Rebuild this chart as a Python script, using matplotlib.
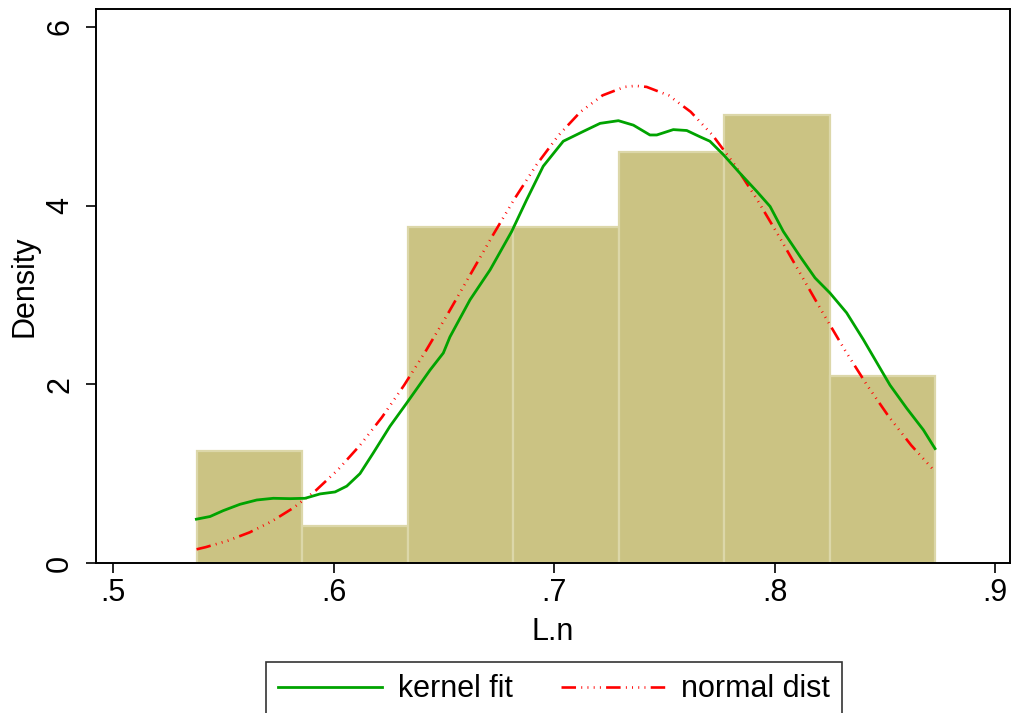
import numpy as np
import matplotlib
matplotlib.use("Agg")
import matplotlib.pyplot as plt
from matplotlib.lines import Line2D

plt.rcParams["font.family"] = ["Liberation Sans", "DejaVu Sans"]

# histogram (density)
bin_edges = [0.5379, 0.5857, 0.6336, 0.6814, 0.7293, 0.7771, 0.8250, 0.8728]
density = [1.254, 0.418, 3.762, 3.762, 4.598, 5.016, 2.090]

# kernel density estimate
kde_x = [0.5378, 0.5440, 0.5500, 0.5576, 0.5652, 0.5727, 0.5803, 0.5871, 0.5939,
         0.6007, 0.6060, 0.6120, 0.6180, 0.6256, 0.6332, 0.6438, 0.6498, 0.6528,
         0.6619, 0.6710, 0.6808, 0.6876, 0.6951, 0.7042, 0.7133, 0.7209, 0.7292,
         0.7360, 0.7435, 0.7466, 0.7541, 0.7602, 0.7662, 0.7707, 0.7768, 0.7844,
         0.7919, 0.7980, 0.8040, 0.8116, 0.8184, 0.8252, 0.8327, 0.8403, 0.8493,
         0.8524, 0.8600, 0.8675, 0.8728]
kde_y = [0.49, 0.52, 0.586, 0.657, 0.705, 0.724, 0.72, 0.724, 0.773,
         0.795, 0.86, 1.00, 1.23, 1.53, 1.79, 2.16, 2.35, 2.53,
         2.945, 3.28, 3.71, 4.065, 4.44, 4.72, 4.83, 4.92, 4.95,
         4.90, 4.79, 4.79, 4.85, 4.84, 4.77, 4.72, 4.57, 4.36,
         4.16, 3.99, 3.71, 3.43, 3.19, 3.02, 2.80, 2.50, 2.12,
         1.99, 1.73, 1.49, 1.28]

# normal density curve
norm_x = [0.5379, 0.542, 0.552, 0.562, 0.572, 0.582, 0.592, 0.602, 0.612, 0.622,
          0.632, 0.642, 0.652, 0.662, 0.672, 0.682, 0.692, 0.702, 0.712, 0.722,
          0.732, 0.737, 0.742, 0.752, 0.762, 0.772, 0.782, 0.792, 0.802, 0.812,
          0.822, 0.832, 0.842, 0.852, 0.862, 0.8728]
norm_y = [0.153, 0.177, 0.249, 0.343, 0.466, 0.620, 0.812, 1.043, 1.317, 1.632,
          1.989, 2.379, 2.795, 3.226, 3.657, 4.072, 4.454, 4.785, 5.049, 5.233,
          5.328, 5.34, 5.328, 5.233, 5.049, 4.785, 4.454, 4.072, 3.657, 3.226,
          2.795, 2.379, 1.989, 1.632, 1.317, 1.023]

x_ticks = [0.5, 0.6, 0.7, 0.8, 0.9]
x_ticklabels = [".5", ".6", ".7", ".8", ".9"]
y_ticks = [0, 2, 4, 6]

fs = 22
green = "#00a300"
red = "#ff0000"
norm_dashes = (5.5, 2.0, 0.35, 2.0, 0.35, 2.0, 0.35, 2.0, 0.35, 2.0)

fig = plt.figure(figsize=(10.11, 7.13), dpi=100)
ax = fig.add_axes([0.095, 0.2104, 0.904, 0.777])

widths = np.diff(bin_edges)
ax.bar(bin_edges[:-1], density, width=widths, align="edge",
       color="#cbc383", edgecolor="#dcd7a9", linewidth=1.6, zorder=1)

ax.plot(kde_x, kde_y, color=green, linewidth=2.0, zorder=3)
ax.plot(norm_x, norm_y, color=red, linewidth=1.9, dashes=norm_dashes, zorder=2)

ax.set_xlim(0.4923, 0.9068)
ax.set_ylim(0, 6.20)
ax.set_xticks(x_ticks)
ax.set_xticklabels(x_ticklabels)
ax.set_yticks(y_ticks)
ax.set_yticklabels([str(v) for v in y_ticks], rotation=90, va="center")

for s in ax.spines.values():
    s.set_linewidth(1.4)
ax.tick_params(axis="both", direction="out", length=7, width=1.2, labelsize=fs)
ax.tick_params(axis="x", pad=4)
ax.tick_params(axis="y", pad=8)

ax.set_xlabel("L.n", fontsize=fs, labelpad=6)
ax.set_ylabel("Density", fontsize=fs, labelpad=4)

handles = [Line2D([], [], color=green, linewidth=2.0),
           Line2D([], [], color=red, linewidth=1.9, dashes=norm_dashes)]
leg = fig.legend(handles, ["kernel fit", "normal dist"], loc="upper center",
                 bbox_to_anchor=(554 / 1011, 1 - 662 / 713), ncol=2,
                 fontsize=fs, frameon=True, fancybox=False, edgecolor="black",
                 handlelength=3.4, handletextpad=0.55, columnspacing=1.55,
                 borderpad=0.4, borderaxespad=0)
leg.get_frame().set_linewidth(1.2)

fig.savefig("out.png", dpi=100)
